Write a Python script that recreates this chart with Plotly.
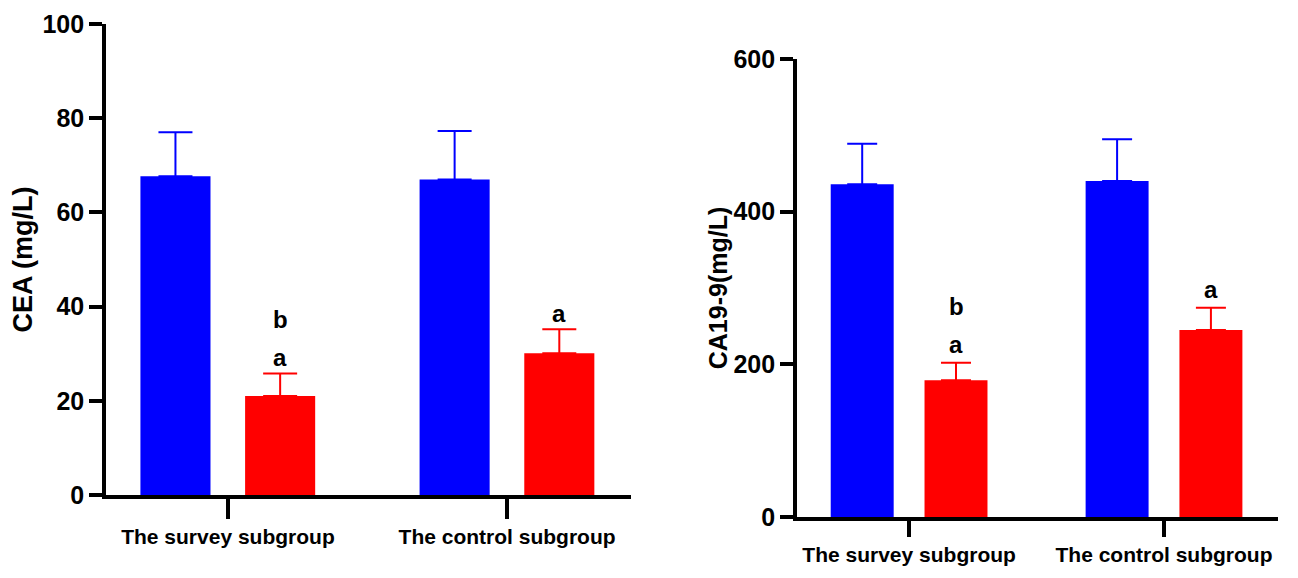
import plotly.graph_objects as go

categories = ["The survey subgroup", "The control subgroup"]

cea_blue = [67.7, 67.0]
cea_blue_err = [9.3, 10.3]
cea_red = [21.0, 30.1]
cea_red_err = [4.8, 5.1]
cea_red_letters = [["a", "b"], ["a"]]

ca_blue = [436, 440]
ca_blue_err = [53, 55]
ca_red = [179, 245]
ca_red_err = [23, 29]
ca_red_letters = [["a", "b"], ["a"]]

BLUE = "#0000ff"
RED = "#ff0000"
FONT = "Liberation Sans, Arial"

fig = go.Figure()

def add_bars(vals, errs, color, xa, ya, offset, width, capw):
    fig.add_trace(go.Bar(
        x=categories, y=vals, xaxis=xa, yaxis=ya,
        marker=dict(color=color, line=dict(width=0)),
        offset=offset, width=width,
        error_y=dict(type="data", array=errs, arrayminus=[0] * len(errs),
                     symmetric=False, color=color, thickness=2, width=capw),
        showlegend=False,
    ))

# left panel
add_bars(cea_blue, cea_blue_err, BLUE, "x", "y", -0.3135, 0.251, 17)
add_bars(cea_red, cea_red_err, RED, "x", "y", 0.0615, 0.251, 17)
# right panel
add_bars(ca_blue, ca_blue_err, BLUE, "x2", "y2", -0.3075, 0.247, 15)
add_bars(ca_red, ca_red_err, RED, "x2", "y2", 0.0605, 0.247, 15)

annotations = []
def add_letters(vals, errs, letters, xa, ya, center, base):
    for i, (v, e, ls) in enumerate(zip(vals, errs, letters)):
        for k, t in enumerate(ls):
            annotations.append(dict(
                x=i + center, y=v + e, xref=xa, yref=ya, text=t, showarrow=False,
                yanchor="bottom", yshift=base + k * 38,
                font=dict(family=FONT, size=24, color="black", weight="bold"),
            ))

add_letters(cea_red, cea_red_err, cea_red_letters, "x", "y", 0.187, 0)
add_letters(ca_red, ca_red_err, ca_red_letters, "x2", "y2", 0.184, 3)

axis_common = dict(showline=True, linecolor="black", linewidth=3.5,
                   showgrid=False, zeroline=False, ticks="outside",
                   tickcolor="black", tickwidth=3.5, automargin=False)

xtick_font = dict(family=FONT, size=21, color="black", weight="bold")
ytick_font = dict(family=FONT, size=25, color="black", weight="bold")

fig.update_layout(
    width=1282, height=562,
    margin=dict(l=0, r=0, t=0, b=0),
    paper_bgcolor="white", plot_bgcolor="white",
    barmode="overlay",
    annotations=annotations,
    xaxis=dict(domain=[0.0764, 0.4860], anchor="y", type="category",
               range=[-0.437, 1.444], ticklen=20, tickfont=xtick_font,
               **axis_common),
    yaxis=dict(domain=[0.1335, 0.9715], anchor="x", range=[0, 100],
               tickvals=[0, 20, 40, 60, 80, 100], ticklen=13,
               tickfont=ytick_font,
               title=dict(text="CEA (mg/L)", standoff=6,
                          font=dict(family=FONT, size=27, color="black", weight="bold")),
               **axis_common),
    xaxis2=dict(domain=[0.6154, 0.9906], anchor="y2", type="category",
                range=[-0.44, 1.447], ticklen=16, tickfont=xtick_font,
                **axis_common),
    yaxis2=dict(domain=[0.0943, 0.9093], anchor="x2", range=[0, 600],
                tickvals=[0, 200, 400, 600], ticklen=13,
                tickfont=ytick_font,
                title=dict(text="CA19-9(mg/L)", standoff=0,
                           font=dict(family=FONT, size=25, color="black", weight="bold")),
                **axis_common),
)

fig.write_html("out.html")
